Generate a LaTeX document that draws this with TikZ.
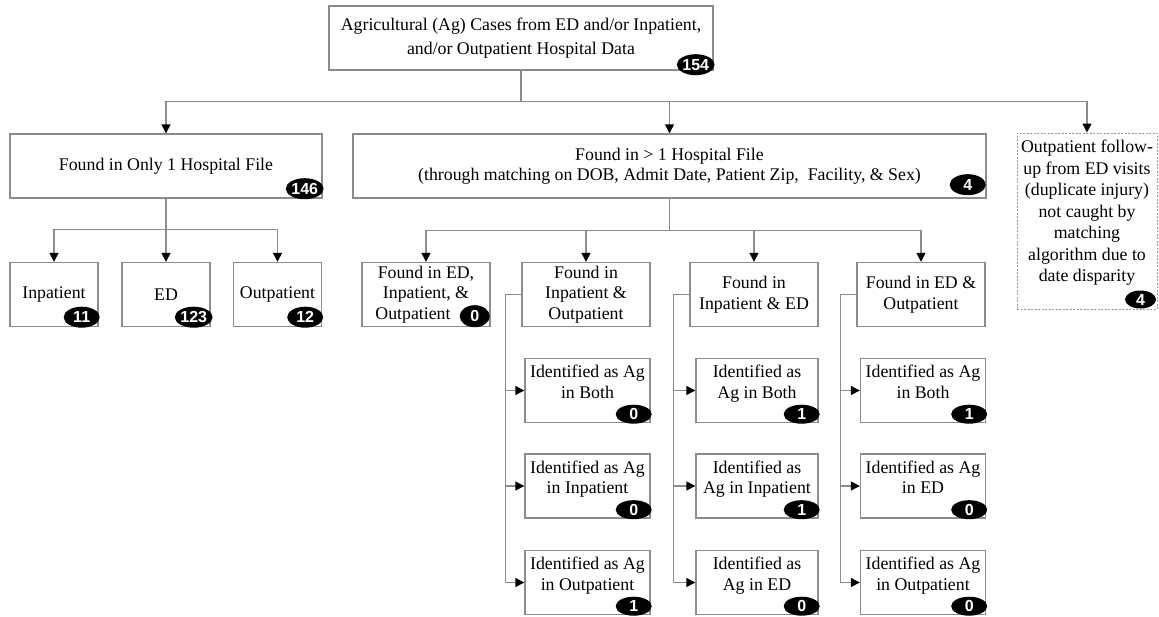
\documentclass[tikz,border=0pt]{standalone}
\usepackage{fontspec}
\setmainfont{Liberation Serif}
\newfontfamily\badgefont{Liberation Sans}
\usetikzlibrary{arrows.meta, shapes, positioning}

% an empty last line, lifts the text away from the badge
\newcommand\liftup[1]{\\[#1]\mbox{}}

\tikzset{
  box/.style={draw=black!45, line width=1.4pt, fill=white, align=center,
    inner sep=2pt, minimum height=64pt, font=\fontsize{17.8}{20.5}\selectfont},
  dashbox/.style={box, draw=black!40, line width=1pt, dash pattern=on 2pt off 1.5pt},
  badge/.style={ellipse, fill=black, text=white, inner sep=0pt,
    minimum width=36pt, minimum height=21pt,
    font=\badgefont\bfseries\fontsize{16}{16}\selectfont},
  link/.style={draw=black!45, line width=1.4pt},
  arrow/.style={link, -{Triangle[length=9pt, width=9pt, color=black]}},
}

\begin{document}
\begin{tikzpicture}[x=1pt, y=-1pt]
\useasboundingbox (0,0) rectangle (1159,616);

% top of the tree
\node[box, minimum width=384pt] (top) at (521,38)
  {Agricultural (Ag) Cases from ED and/or Inpatient,\\[3pt] and/or Outpatient Hospital Data};
\node[badge] (top n) at ([shift={(-18,-6)}]top.south east) {154};

% second level
\node[box, minimum width=312pt] (only1) at (166,166) {Found in Only 1 Hospital File};
\node[badge] (only1 n) at ([shift={(-18,-10)}]only1.south east) {146};

\node[box, minimum width=633pt] (many) at (669.5,166)
  {Found in > 1 Hospital File\\(through matching on DOB, Admit Date, Patient Zip,\ \ Facility, \& Sex)};
\node[badge] (many n) at ([shift={(-19,-14)}]many.south east) {4};

\node[dashbox, minimum width=140pt, minimum height=176pt] (followup) at (1087,221)
  {Outpatient follow-\\[1pt]up from ED visits\\[1pt](duplicate injury)\\[1pt]not caught by\\[1pt]matching\\[1pt]algorithm due to\\[1pt]date disparity\liftup{0pt}};
\node[badge, minimum width=31pt, minimum height=18pt] (followup n) at ([shift={(-17,-10)}]followup.south east) {4};

\draw[link] (top.south) -- ++(0,31) coordinate (top split);
\foreach \n in {only1, many, followup}
  \draw[arrow] (top split) -| (\n.north);

% found in only one file
\foreach \name/\x/\txt/\num in {inp/54/Inpatient/11, ed/166/ED/123, outp/277.5/Outpatient/12}
{
  \node[box, minimum width=88pt] (\name) at (\x,294.5) {\txt};
  \node[badge] (\name n) at ([shift={(-17,-10)}]\name.south east) {\num};
}
\draw[link] (only1.south) -- ++(0,31) coordinate (only1 split);
\foreach \n in {inp, ed, outp}
  \draw[arrow] (only1 split) -| (\n.north);

% found in more than one file
\node[box, minimum width=128pt] (all3) at (426,294.5) {Found in ED,\\Inpatient, \&\\Outpatient\hspace*{26pt}};
\node[badge, minimum width=30pt, minimum height=22pt] (all3 n) at ([shift={(-16,-11)}]all3.south east) {0};
\node[box, minimum width=128pt] (io) at (586,294.5) {Found in\\Inpatient \&\\Outpatient};
\node[box, minimum width=128pt] (ie) at (754,294.5) {Found in\\Inpatient \& ED};
\node[box, minimum width=128pt] (eo) at (921,294.5) {Found in ED \&\\Outpatient};

\draw[link] (many.south) -- ++(0,32) coordinate (many split);
\foreach \n in {all3, io, ie, eo}
  \draw[arrow] (many split) -| (\n.north);

% how the matched cases were identified
\foreach \name/\x/\y/\w/\txt/\num in {
    io1/587.5/390.5/125/{Identified as Ag\\in Both}/0,
    io2/587.5/486/125/{Identified as Ag\\in Inpatient}/0,
    io3/587.5/582.5/125/{Identified as Ag\\in Outpatient}/1,
    ie1/757/390.5/122/{Identified as\\Ag in Both}/1,
    ie2/757/486/122/{Identified as\\Ag in Inpatient}/1,
    ie3/757/582.5/122/{Identified as\\Ag in ED}/0,
    eo1/923/390.5/125/{Identified as Ag\\in Both}/1,
    eo2/923/486/125/{Identified as Ag\\in ED}/0,
    eo3/923/582.5/125/{Identified as Ag\\in Outpatient}/0}
{
  \node[box, minimum width=\w pt] (\name) at (\x,\y) {\txt\liftup{-2.5pt}};
  \node[badge, minimum height=19pt] (\name n) at ([shift={(-17,-9)}]\name.south east) {\num};
}

\foreach \col in {io, ie, eo}
  \foreach \k in {1,2,3}
    \draw[arrow] (\col.west) -- ++(-16,0) |- (\col\k.west);
\end{tikzpicture}
\end{document}
